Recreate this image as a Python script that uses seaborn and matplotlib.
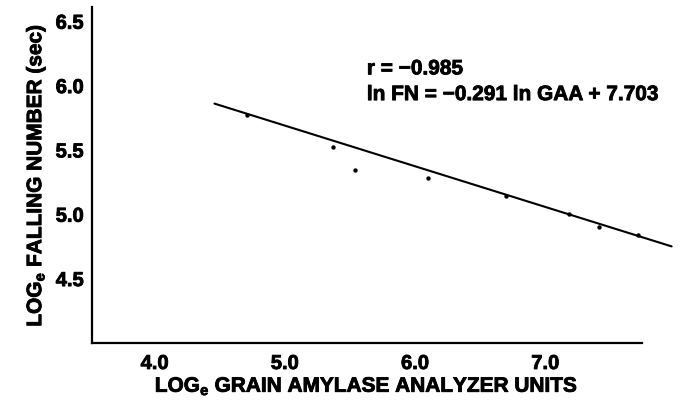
import matplotlib
matplotlib.use("Agg")
import matplotlib.pyplot as plt
import matplotlib.patheffects as pe
import seaborn as sns
import pandas as pd

# data
log_gaa = [4.71, 5.37, 5.54, 6.10, 6.70, 7.18, 7.41, 7.71]
log_fn = [5.77, 5.52, 5.34, 5.28, 5.14, 5.00, 4.90, 4.84]
fit_x = [4.46, 7.97]
fit_y = [5.86, 4.75]
x_ticks = [4.0, 5.0, 6.0, 7.0]
y_ticks = [4.5, 5.0, 5.5, 6.0, 6.5]
stat_r = "r = \u22120.985"
stat_eq = "ln FN = \u22120.291 ln GAA + 7.703"

sns.set_theme(style="white")
plt.rcParams["font.family"] = ["Liberation Sans", "DejaVu Sans"]
plt.rcParams["font.weight"] = "bold"
plt.rcParams["text.color"] = "black"
plt.rcParams["axes.labelcolor"] = "black"
plt.rcParams["mathtext.fontset"] = "custom"
plt.rcParams["mathtext.rm"] = "Liberation Sans:bold"
plt.rcParams["mathtext.it"] = "Liberation Sans:bold"
plt.rcParams["mathtext.bf"] = "Liberation Sans:bold"

heavy = [pe.withStroke(linewidth=0.6, foreground="black")]

fig = plt.figure(figsize=(6.87, 4.06), dpi=100)
ax = fig.add_axes([0.134, 0.153, 0.800, 0.827])

pts = pd.DataFrame({"x": log_gaa, "y": log_fn})
fit = pd.DataFrame({"x": fit_x, "y": fit_y})
sns.lineplot(data=fit, x="x", y="y", ax=ax, color="black", lw=1.5, clip_on=False)
sns.scatterplot(data=pts, x="x", y="y", ax=ax, color="black", s=10, edgecolor="black",
                linewidth=0, zorder=3, clip_on=False)

ax.set_xlim(3.52, 7.74)
ax.set_ylim(4.0, 6.61)
ax.set_xticks(x_ticks)
ax.set_xticklabels([f"{v:.1f}" for v in x_ticks])
ax.set_yticks(y_ticks)
ax.set_yticklabels([f"{v:.1f}" for v in y_ticks])

for s in ["top", "right"]:
    ax.spines[s].set_visible(False)
for s in ["left", "bottom"]:
    ax.spines[s].set_color("black")
    ax.spines[s].set_linewidth(1.6)

ax.tick_params(axis="both", direction="in", length=3, width=1.5, colors="black",
               labelsize=14.5)
ax.tick_params(axis="x", pad=8)
ax.tick_params(axis="y", pad=6)
for lab in ax.get_xticklabels() + ax.get_yticklabels():
    lab.set_fontweight("bold")
    lab.set_path_effects(heavy)

xl = ax.set_xlabel(r"LOG$_{\mathrm{e}}$ GRAIN AMYLASE ANALYZER UNITS", fontsize=15,
                   fontweight="bold", labelpad=2)
yl = ax.set_ylabel(r"LOG$_{\mathrm{e}}$ FALLING NUMBER (sec)", fontsize=15,
                   fontweight="bold", labelpad=6)
xl.set_path_effects(heavy)
yl.set_path_effects(heavy)

t1 = ax.text(5.63, 6.13, stat_r, fontsize=15, fontweight="bold", va="center", ha="left")
t2 = ax.text(5.63, 5.93, stat_eq, fontsize=15, fontweight="bold", va="center", ha="left")
t1.set_path_effects(heavy)
t2.set_path_effects(heavy)

fig.savefig("out.png", dpi=100, facecolor="white")
